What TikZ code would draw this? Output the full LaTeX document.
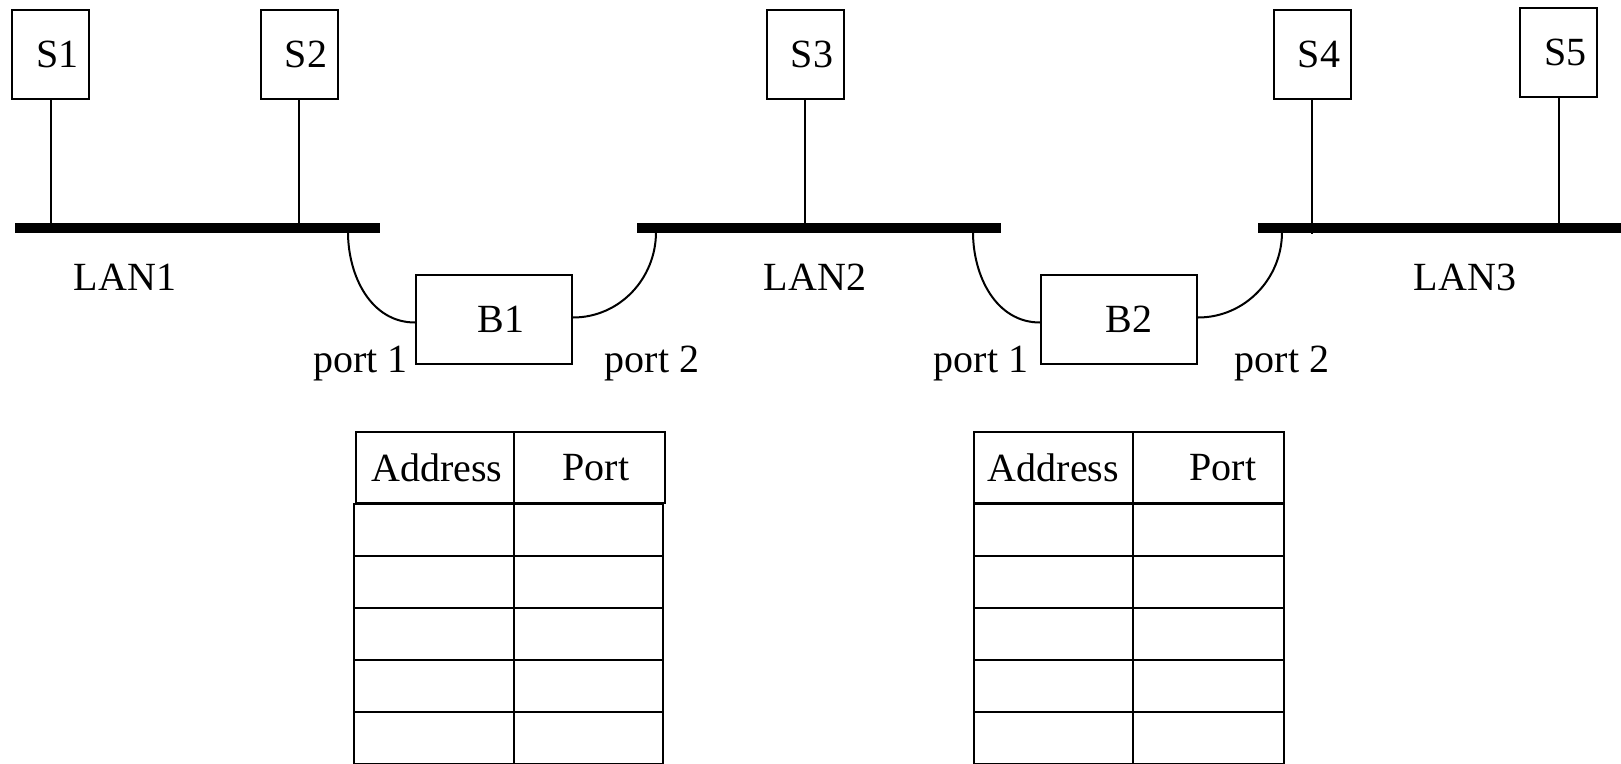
\documentclass[tikz,border=0pt]{standalone}
\usepackage{fontspec}
\setmainfont{Liberation Serif}
\begin{document}
\begin{tikzpicture}[x=1pt,y=-1pt,
  every node/.style={font=\fontsize{40}{42}\selectfont},
  thinline/.style={line width=2pt},
  station/.style={draw,thinline,minimum width=77pt,minimum height=89pt,inner sep=0pt},
  bridge/.style={draw,thinline,minimum width=156pt,minimum height=89pt,inner sep=0pt},
  bus/.style={line width=10pt},
  hcell/.style={draw,thinline,minimum height=71pt,inner sep=0pt,anchor=north west},
  bcell/.style={draw,line width=2.4pt,minimum height=52pt,inner sep=0pt,anchor=north west},
  lbl/.style={anchor=base,inner sep=0pt}]
\useasboundingbox (0,0) rectangle (1621,763);
% stations
\node[station] (S1) at (50.5,54) {\hspace{14pt}\raisebox{-4pt}{S1}};
\node[station] (S2) at (299,54) {\hspace{14pt}\raisebox{-4pt}{S2}};
\node[station] (S3) at (805,54) {\hspace{14pt}\raisebox{-4pt}{S3}};
\node[station] (S4) at (1312,54.5) {\hspace{14pt}\raisebox{-4pt}{S4}};
\node[station] (S5) at (1558.5,52) {\hspace{14pt}\raisebox{-4pt}{S5}};
% buses
\coordinate (L1a) at (15,228); \coordinate (L1b) at (380,228);
\coordinate (L2a) at (637,228); \coordinate (L2b) at (1001,228);
\coordinate (L3a) at (1258,228); \coordinate (L3b) at (1621,228);
\draw[bus] (L1a) -- (L1b);
\draw[bus] (L2a) -- (L2b);
\draw[bus] (L3a) -- (L3b);
\draw[thinline] (S1.south) -- (S1.south |- L1a);
\draw[thinline] (S2.south) -- (S2.south |- L1a);
\draw[thinline] (S3.south) -- (S3.south |- L2a);
\draw[thinline] (S4.south) -- ([yshift=-6pt]S4.south |- L3a);
\draw[thinline] (S5.south) -- (S5.south |- L3a);
\node[lbl] (lan1) at (125,290) {LAN1};
\node[lbl] (lan2) at (815,290) {LAN2};
\node[lbl] (lan3) at (1465,290) {LAN3};
% bridges
\node[bridge] (B1) at (494,319.5) {\hspace{14pt}\raisebox{-2pt}{B1}};
\node[bridge] (B2) at (1119,319.5) {\hspace{20pt}\raisebox{-2pt}{B2}};
\coordinate (c11) at (348,232); \coordinate (c12) at (656,232);
\coordinate (c21) at (973,232); \coordinate (c22) at (1282,232);
\draw[thinline] (c11) to[out=-90,in=180] ([yshift=-3pt]B1.west);
\draw[thinline] ([yshift=2pt]B1.east) to[out=0,in=-90] (c12);
\draw[thinline] (c21) to[out=-90,in=180] ([yshift=-3pt]B2.west);
\draw[thinline] ([yshift=2pt]B2.east) to[out=0,in=-90] (c22);
\node[lbl] (p11) at (360.5,372) {port 1};
\node[lbl] (p12) at (652,372) {port 2};
\node[lbl] (p21) at (981,372) {port 1};
\node[lbl] (p22) at (1282,372) {port 2};
% table 1
\node[hcell,minimum width=158pt] (T1a) at (355,431) {\hspace{4pt}Address};
\node[hcell,minimum width=151pt] (T1p) at (513,431) {\hspace{13pt}Port};
\foreach \i in {0,...,4} {
  \node[bcell,minimum width=160pt] (T1r\i a) at (353,503+52*\i) {};
  \node[bcell,minimum width=149pt] (T1r\i b) at (513,503+52*\i) {};
}
% table 2
\node[hcell,minimum width=159pt] (T2a) at (973,431) {Address};
\node[hcell,minimum width=151pt] (T2p) at (1132,431) {\hspace{29pt}Port};
\foreach \i in {0,...,4} {
  \node[bcell,minimum width=159pt] (T2r\i a) at (973,503+52*\i) {};
  \node[bcell,minimum width=151pt] (T2r\i b) at (1132,503+52*\i) {};
}
\end{tikzpicture}
\end{document}
